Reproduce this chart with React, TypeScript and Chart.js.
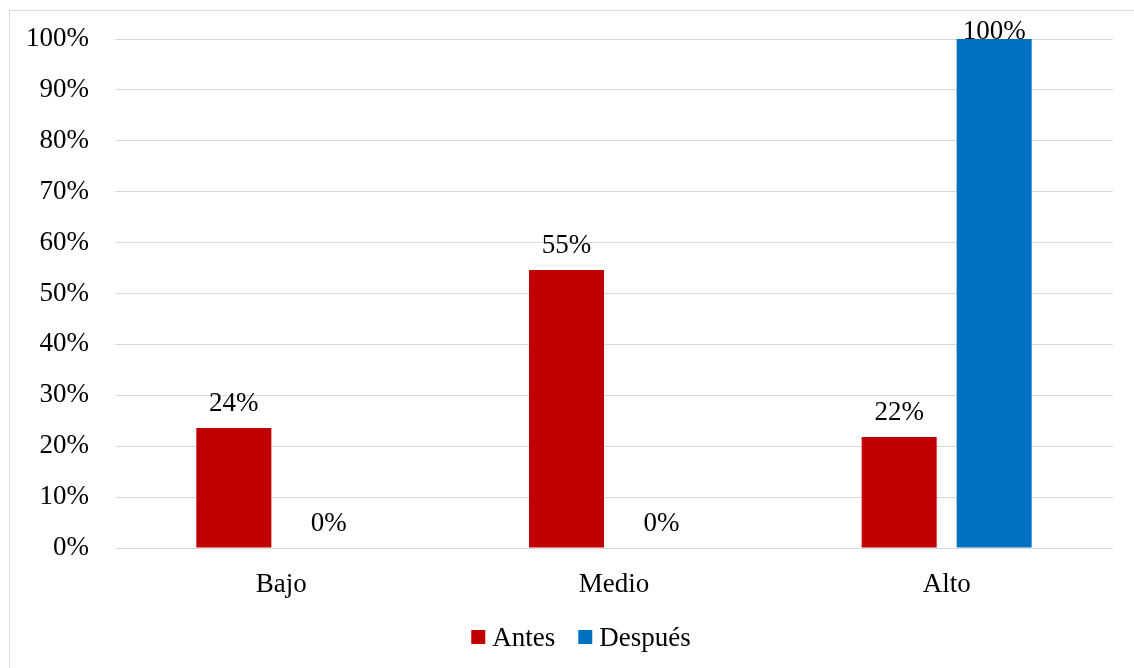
import React, { useEffect, useRef } from "react";
import { Chart, registerables } from "chart.js";

Chart.register(...registerables);

const categories = ["Bajo", "Medio", "Alto"];
const antesValues = [23.6, 54.6, 21.8];
const despuesValues = [0, 0, 100];
const seriesNames = ["Antes", "Después"];
const seriesColors = ["#C00000", "#0070C0"];
const yTickMax = 100;
const yTickStep = 10;

const FONT = "'Liberation Serif', 'Times New Roman', serif";
const FONT_SIZE = 27;

const dataLabelPlugin = {
  id: "dataLabels",
  afterDatasetsDraw(chart: any) {
    const ctx = chart.ctx;
    ctx.save();
    ctx.font = `${FONT_SIZE}px ${FONT}`;
    ctx.fillStyle = "#000";
    ctx.textAlign = "center";
    ctx.textBaseline = "alphabetic";
    chart.data.datasets.forEach((ds: any, di: number) => {
      const meta = chart.getDatasetMeta(di);
      meta.data.forEach((bar: any, i: number) => {
        const v = ds.data[i];
        const y = Math.max(bar.y - 17, chart.chartArea.top);
        ctx.fillText(Math.round(v) + "%", bar.x, y);
      });
    });
    ctx.restore();
  },
};

const legendPlugin = {
  id: "customLegend",
  afterDraw(chart: any) {
    const ctx = chart.ctx;
    ctx.save();
    ctx.font = `${FONT_SIZE}px ${FONT}`;
    ctx.textBaseline = "alphabetic";
    ctx.textAlign = "left";
    const box = 14;
    const gapText = 7;
    const gapItem = 23;
    const widths = seriesNames.map((n) => ctx.measureText(n).width);
    const total = widths.reduce((a, w) => a + box + gapText + w, 0) + gapItem * (seriesNames.length - 1);
    let x = chart.width / 2 + 9 - total / 2;
    const boxTop = chart.height - 38;
    const baseline = boxTop + 15.5;
    seriesNames.forEach((n, i) => {
      ctx.fillStyle = seriesColors[i];
      ctx.fillRect(x, boxTop, box, box);
      ctx.fillStyle = "#000";
      ctx.fillText(n, x + box + gapText, baseline);
      x += box + gapText + widths[i] + gapItem;
    });
    ctx.restore();
  },
};

export default function App() {
  const canvasRef = useRef<HTMLCanvasElement | null>(null);

  useEffect(() => {
    if (!canvasRef.current) return;
    Chart.defaults.font.family = FONT;
    const chart = new Chart(canvasRef.current, {
      type: "bar",
      data: {
        labels: categories,
        datasets: [
          {
            label: seriesNames[0],
            data: antesValues,
            backgroundColor: seriesColors[0],
            categoryPercentage: 0.571,
            barPercentage: 0.79,
          },
          {
            label: seriesNames[1],
            data: despuesValues,
            backgroundColor: seriesColors[1],
            categoryPercentage: 0.571,
            barPercentage: 0.79,
          },
        ],
      },
      options: {
        animation: false,
        responsive: false,
        maintainAspectRatio: false,
        layout: { padding: { top: 28, right: 21, bottom: 60, left: 0 } },
        plugins: {
          legend: { display: false },
          tooltip: { enabled: false },
        },
        scales: {
          x: {
            grid: { display: false, drawTicks: false },
            border: { display: false },
            ticks: {
              color: "#000",
              font: { size: FONT_SIZE, family: FONT },
              padding: 21,
            },
            afterFit: (scale: any) => {
              scale.height = 60;
            },
          },
          y: {
            min: 0,
            max: yTickMax,
            grid: { color: "#d9d9d9", lineWidth: 1, drawTicks: false },
            border: { display: false },
            ticks: {
              stepSize: yTickStep,
              color: "#000",
              font: { size: FONT_SIZE, family: FONT },
              padding: 26,
              callback: (v: any) => v + "%",
            },
            afterFit: (scale: any) => {
              scale.width = 105;
              scale.paddingTop = 0;
              scale.paddingBottom = 0;
            },
          },
        },
      },
      plugins: [dataLabelPlugin, legendPlugin],
    });
    return () => chart.destroy();
  }, []);

  return (
    <div
      style={{
        position: "absolute",
        left: 9,
        top: 10,
        width: 1125,
        height: 658,
        borderLeft: "1px solid #d9d9d9",
        borderTop: "1px solid #d9d9d9",
        background: "#fff",
      }}
    >
      <canvas ref={canvasRef} width={1124} height={657} style={{ display: "block" }} />
    </div>
  );
}
